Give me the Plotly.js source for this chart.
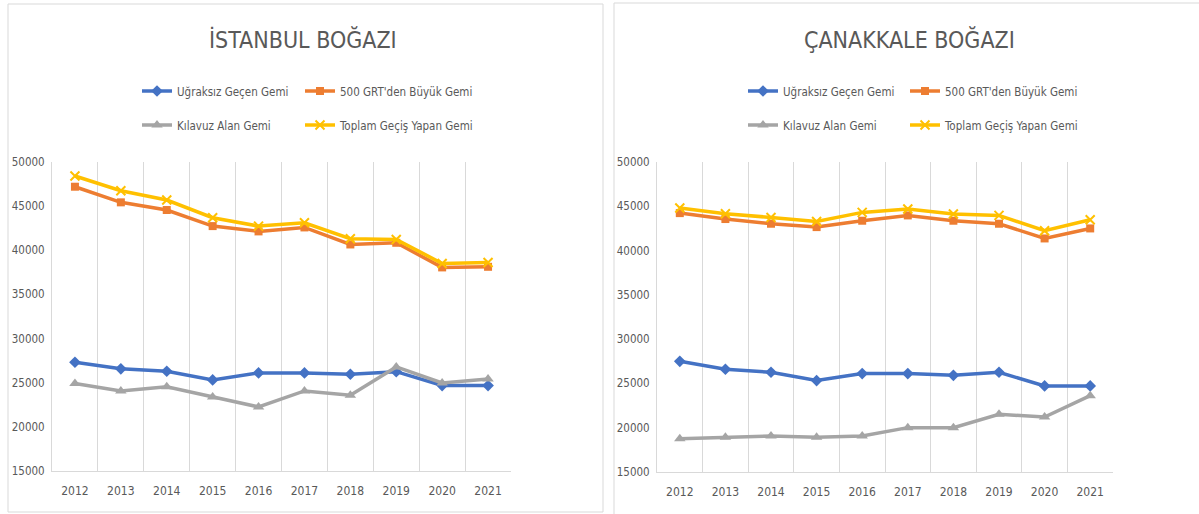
<!DOCTYPE html>
<html>
<head>
<meta charset="utf-8">
<script src="https://cdn.plot.ly/plotly-3.0.1.min.js"></script>
<style>
html,body{margin:0;padding:0;background:#fff;}
#chart{width:1199px;height:514px;}
#chart svg text{font-stretch:condensed !important;}
</style>
</head>
<body>
<div id="chart"></div>
<script>
const years = ["2012","2013","2014","2015","2016","2017","2018","2019","2020","2021"];
const seriesNames = ["Uğraksız Geçen Gemi","500 GRT'den Büyük Gemi","Kılavuz Alan Gemi","Toplam Geçiş Yapan Gemi"];
const titles = ["İSTANBUL BOĞAZI","ÇANAKKALE BOĞAZI"];
const yTicks = [15000,20000,25000,30000,35000,40000,45000,50000];

// İstanbul Boğazı
const istUgraksiz = [27320,26570,26300,25320,26110,26110,25960,26250,24680,24680];
const istGrt500   = [47200,45430,44560,42740,42140,42590,40660,40850,38060,38130];
const istKilavuz  = [24900,24070,24530,23390,22260,24070,23580,26790,24980,25430];
const istToplam   = [48410,46750,45690,43690,42740,43120,41310,41230,38510,38620];

// Çanakkale Boğazı
const canUgraksiz = [27500,26600,26260,25320,26110,26110,25920,26260,24720,24720];
const canGrt500   = [44230,43560,43030,42650,43370,43970,43370,43030,41370,42500];
const canKilavuz  = [18760,18910,19060,18910,19060,20010,20010,21510,21210,23620];
const canToplam   = [44800,44160,43740,43290,44310,44690,44120,43970,42240,43480];

const colors = ["#4472C4","#ED7D31","#A5A5A5","#FFC000"];
const symbols = ["diamond","square","triangle-up","x-thin"];
const msizes = [9,8,10,9];

const FONT = "'DejaVu Sans Condensed','DejaVu Sans',sans-serif";
const W = 1199, H = 514;
const px = v => v / W;
const py = v => (H - v) / H;

const datasets = [
  [istUgraksiz, istGrt500, istKilavuz, istToplam],
  [canUgraksiz, canGrt500, canKilavuz, canToplam]
];
// legend anchor points (left edge, row centre) per chart and series
const legX = [[137, 300, 137, 300], [743, 905, 743, 905]];
const legY = [91, 91, 125, 125];

const traces = [];
const legends = {};
datasets.forEach((set, c) => {
  set.forEach((vals, i) => {
    const k = c * 4 + i + 1;
    const lname = k === 1 ? "legend" : "legend" + k;
    legends[lname] = {x: px(legX[c][i]), y: py(legY[i]), xanchor: "left", yanchor: "middle",
      orientation: "h", itemwidth: 30, bgcolor: "rgba(0,0,0,0)", borderwidth: 0,
      font: {family: FONT, size: 11.5, color: "#595959"}};
    traces.push({
      type: "scatter", mode: "lines+markers",
      x: years, y: vals, name: seriesNames[i],
      xaxis: c === 0 ? "x" : "x2", yaxis: c === 0 ? "y" : "y2",
      legend: lname,
      line: {color: colors[i], width: 3.5},
      marker: {color: colors[i], symbol: symbols[i], size: msizes[i],
               line: {color: colors[i], width: symbols[i] === "x-thin" ? 2 : 0}},
      hoverinfo: "x+y+name"
    });
  });
});

function xa(d0, d1, anchor) {
  return {domain: [px(d0), px(d1)], anchor: anchor, type: "category",
    range: [-0.5, 9.5], tickson: "boundaries", showgrid: true, gridcolor: "#D9D9D9", gridwidth: 1,
    showline: true, linecolor: "#D9D9D9", linewidth: 1, ticks: "", zeroline: false,
    tickfont: {family: FONT, size: 12, color: "#595959"}, ticklabelstandoff: 9, fixedrange: true};
}
function ya(t, b, anchor) {
  return {domain: [py(b), py(t)], anchor: anchor, range: [15000, 50000],
    tickvals: yTicks, ticktext: yTicks.map(String), showgrid: false, zeroline: false,
    showline: true, linecolor: "#D9D9D9", linewidth: 1, ticks: "",
    tickfont: {family: FONT, size: 11.5, color: "#595959"}, ticklabelstandoff: 4, fixedrange: true};
}

const layout = Object.assign({
  width: W, height: H, margin: {l: 0, r: 0, t: 0, b: 0},
  paper_bgcolor: "#fff", plot_bgcolor: "rgba(0,0,0,0)",
  showlegend: true,
  xaxis: xa(52, 511, "y"), yaxis: ya(162, 471, "x"),
  xaxis2: xa(657, 1113, "y2"), yaxis2: ya(162, 472, "x2"),
  annotations: [
    {text: titles[0], xref: "paper", yref: "paper", x: px(303), y: py(40), xanchor: "center", yanchor: "middle",
     showarrow: false, font: {family: FONT, size: 23, color: "#595959"}},
    {text: titles[1], xref: "paper", yref: "paper", x: px(909), y: py(40), xanchor: "center", yanchor: "middle",
     showarrow: false, font: {family: FONT, size: 23, color: "#595959"}}
  ],
  shapes: [
    {type: "rect", xref: "paper", yref: "paper", x0: px(8), x1: px(603), y0: py(512), y1: py(4),
     line: {color: "#D9D9D9", width: 1}, fillcolor: "rgba(0,0,0,0)", layer: "below"},
    {type: "rect", xref: "paper", yref: "paper", x0: px(614), x1: px(1210), y0: py(530), y1: py(3),
     line: {color: "#D9D9D9", width: 1}, fillcolor: "rgba(0,0,0,0)", layer: "below"}
  ]
}, legends);

Plotly.newPlot("chart", traces, layout, {displayModeBar: false, staticPlot: true});
</script>
</body>
</html>
